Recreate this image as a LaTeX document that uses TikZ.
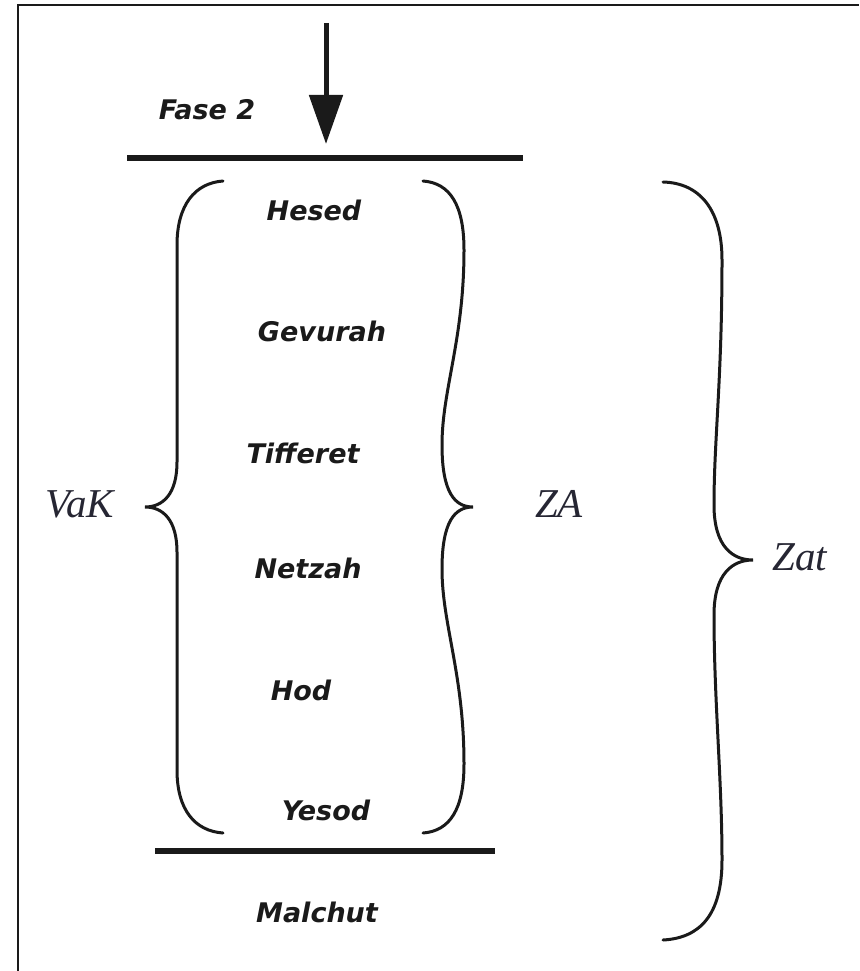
\documentclass[tikz,border=0pt]{standalone}
\usepackage{fontspec}
\usetikzlibrary{arrows.meta}
\newfontfamily\labfont{DejaVu Sans}
\newfontfamily\serfont{Liberation Serif}
\definecolor{ink}{HTML}{1A1A1A}
\definecolor{serink}{HTML}{262633}
\begin{document}
\begin{tikzpicture}[x=1pt,y=-1pt,
  sefira/.style={anchor=base,inner sep=0pt,font=\labfont\bfseries\itshape\fontsize{27}{30}\selectfont,text=ink},
  grp/.style={anchor=base,inner sep=0pt,font=\serfont\itshape\fontsize{41}{46}\selectfont,text=serink},
  bar/.style={line width=6.5pt,draw=ink},
  brace/.style={line width=3pt,draw=ink,line cap=round}]
\useasboundingbox (0,0) rectangle (859,971);
% frame
\draw[line width=2.5pt,ink] (18,971) -- (18,5) -- (859,5);
% arrow
\coordinate (arrtop) at (326,23);
\coordinate (arrtip) at (326,144);
\draw[line width=5pt,ink,-{Triangle[length=49pt,width=33pt]}] (arrtop) -- (arrtip);
\node[sefira] (fase) at (207,120) {Fase 2};
% bars
\coordinate (t1) at (127,158); \coordinate (t2) at (523,158);
\draw[bar] (t1) -- (t2);
\coordinate (b1) at (155,851); \coordinate (b2) at (495,851);
\draw[bar] (b1) -- (b2);
% sefirot
\node[sefira] (hesed) at (314,220) {Hesed};
\node[sefira] (gevurah) at (322,341) {Gevurah};
\node[sefira] (tifferet) at (303,463) {Tifferet};
\node[sefira] (netzah) at (308,578) {Netzah};
\node[sefira] (hod) at (301,700) {Hod};
\node[sefira] (yesod) at (326,820) {Yesod};
\node[sefira] (malchut) at (317,922) {Malchut};
% left brace (VaK)
\draw[brace] (223,181) .. controls (195,183) and (177,205) .. (177,245)
  -- (177,462) .. controls (177,494) and (163,507) .. (145,507)
  .. controls (163,507) and (177,520) .. (177,552)
  -- (177,770) .. controls (177,810) and (195,831) .. (223,833);
% right brace (ZA)
\draw[brace] (423,181) .. controls (450,183) and (464,205) .. (464,250)
  .. controls (464,340) and (442,390) .. (442,445)
  .. controls (442,493) and (455,507) .. (473,507)
  .. controls (455,507) and (442,521) .. (442,569)
  .. controls (442,624) and (464,674) .. (464,764)
  .. controls (464,809) and (450,831) .. (423,833);
% outer brace (Zat)
\draw[brace] (663,182) .. controls (700,183) and (722,210) .. (722,260)
  .. controls (722,380) and (714,440) .. (714,505)
  .. controls (714,547) and (733,560) .. (753,560)
  .. controls (733,560) and (714,573) .. (714,615)
  .. controls (714,700) and (722,780) .. (722,860)
  .. controls (722,915) and (700,938) .. (663,940);
% group labels
\node[grp] (vak) at (80,517) {VaK};
\node[grp] (za) at (559,517) {ZA};
\node[grp] (zat) at (800,570) {Zat};
\end{tikzpicture}
\end{document}
